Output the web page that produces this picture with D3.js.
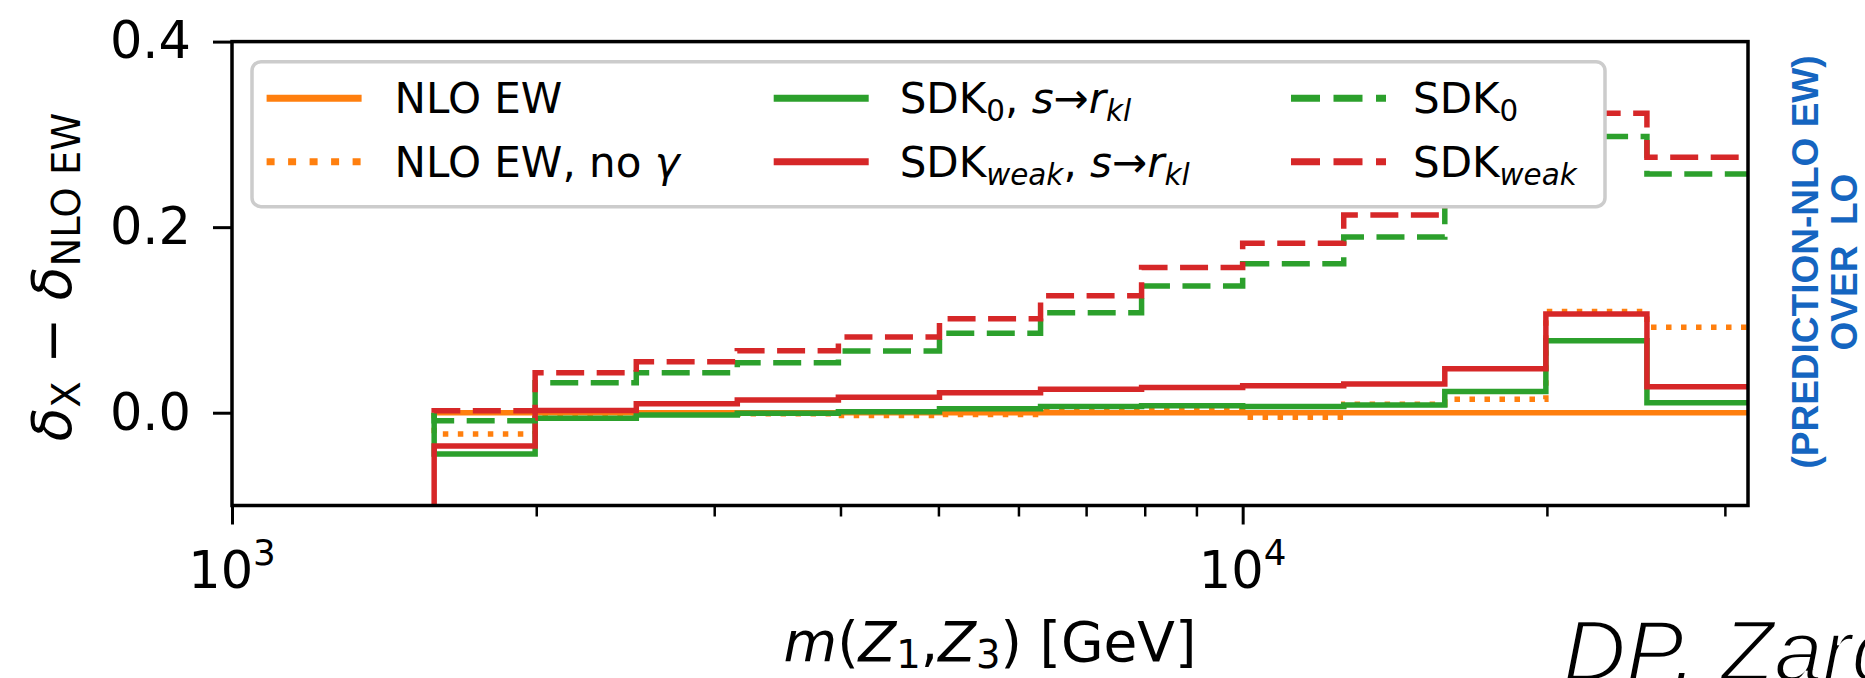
<!DOCTYPE html>
<head>
    <style>
        body { margin: 0; background: #fff; }
        text { font-family: "DejaVu Sans", sans-serif; }
    </style>
</head>
<body>
    <script src="https://d3js.org/d3.v7.min.js"></script>
    <script>
        const width = 1865;
        const height = 678;

        // bin edges of m(Z1,Z3) in GeV (log spaced, 0.1 decade)
        const edges = [1585, 1995, 2512, 3162, 3981, 5012, 6310, 7943, 10000, 12589, 15849, 19953, 25119, 31623];

        // delta_X - delta_NLO EW per bin
        const nloEW        = [0, 0, 0, 0, 0, 0, 0, 0, 0, 0, 0, 0, 0];
        const nloEWnoGamma = [-0.023, -0.001, 0.000, -0.001, -0.003, -0.002, 0.002, 0.002, -0.005, 0.009, 0.0145, 0.109, 0.092];
        const sdk0Rkl      = [-0.0445, -0.006, -0.0025, -0.0005, 0.001, 0.0043, 0.0068, 0.0075, 0.0068, 0.0082, 0.023, 0.0775, 0.0108];
        const sdkWeakRkl   = [-0.036, 0.0025, 0.0097, 0.0137, 0.0166, 0.0216, 0.0252, 0.0272, 0.029, 0.031, 0.0475, 0.1064, 0.028];
        const sdk0         = [-0.0086, 0.0323, 0.0431, 0.0539, 0.0665, 0.0856, 0.1078, 0.1366, 0.1605, 0.1894, 0.235, 0.2976, 0.2574];
        const sdkWeak      = [0.002, 0.0431, 0.055, 0.0669, 0.0816, 0.1014, 0.1262, 0.1564, 0.1826, 0.2132, 0.262, 0.3228, 0.2754];
        // value the step outline comes from at the first edge
        const stepStart    = [0, 0, 0, -0.15, 0, 0];

        const yTicks = [0, 0.2, 0.4];
        const xMajor = [1000, 10000];
        const xMinor = [2000, 3000, 4000, 5000, 6000, 7000, 8000, 9000, 20000, 30000];

        const orange = "#ff7f0e", green = "#2ca02c", red = "#d62728";
        const DOT = "5.5,9.5", DASH = "28,12.5";

        const series = [
            {values: nloEW, color: orange, dash: null},
            {values: nloEWnoGamma, color: orange, dash: DOT},
            {values: sdk0Rkl, color: green, dash: null},
            {values: sdkWeakRkl, color: red, dash: null},
            {values: sdk0, color: green, dash: DASH},
            {values: sdkWeak, color: red, dash: DASH}
        ];

        // legend labels as rich text parts
        const legendLabels = [
            [{t: "NLO EW"}],
            [{t: "NLO EW, no "}, {t: "γ", it: 1}],
            [{t: "SDK"}, {t: "0", sub: 1}, {t: ", "}, {t: "s", it: 1}, {t: "→"}, {t: "r", it: 1}, {t: "kl", it: 1, sub: 1}],
            [{t: "SDK"}, {t: "weak", it: 1, sub: 1}, {t: ", "}, {t: "s", it: 1}, {t: "→"}, {t: "r", it: 1}, {t: "kl", it: 1, sub: 1}],
            [{t: "SDK"}, {t: "0", sub: 1}],
            [{t: "SDK"}, {t: "weak", it: 1, sub: 1}]
        ];

        const L = 232, R = 1748, T = 41.6, B = 505.5;

        const x = d3.scaleLog().domain([1000, 31623]).range([L, R]);
        const y = d3.scaleLinear().domain([-0.1, 0.4]).range([B, T]);

        const svg = d3.select("body").append("svg").attr("width", width).attr("height", height);

        svg.append("clipPath").attr("id", "plotclip")
            .append("rect").attr("x", L).attr("y", T).attr("width", R - L).attr("height", B - T);

        function richText(sel, parts, drop) {
            let shift = 0;
            parts.forEach(p => {
                const target = p.sub ? drop : (p.sup ? -drop : 0);
                const ts = sel.append("tspan").text(p.t).attr("dy", target - shift);
                shift = target;
                if (p.it) ts.attr("font-style", "italic");
                if (p.sub || p.sup) ts.attr("font-size", "70%");
            });
        }

        function stepPath(vals, start) {
            let d = "M" + x(edges[0]) + "," + y(start);
            vals.forEach((v, i) => {
                d += "V" + y(v) + "H" + x(edges[i + 1]);
            });
            return d;
        }

        const plot = svg.append("g").attr("clip-path", "url(#plotclip)");
        series.forEach((s, i) => {
            plot.append("path")
                .attr("d", stepPath(s.values, stepStart[i]))
                .attr("fill", "none")
                .attr("stroke", s.color)
                .attr("stroke-width", 5.5)
                .attr("stroke-dasharray", s.dash)
                .attr("stroke-linejoin", "miter");
        });

        // axes
        const xMaj = svg.append("g").attr("transform", `translate(0,${B})`)
            .call(d3.axisBottom(x).tickValues(xMajor).tickSize(19).tickFormat(""));
        const xMin = svg.append("g").attr("transform", `translate(0,${B})`)
            .call(d3.axisBottom(x).tickValues(xMinor).tickSize(11).tickFormat(""));
        const yAx = svg.append("g").attr("transform", `translate(${L},0)`)
            .call(d3.axisLeft(y).tickValues(yTicks).tickSize(19).tickPadding(22).tickFormat(d3.format(".1f")));
        [xMaj, xMin, yAx].forEach(g => {
            g.select(".domain").remove();
            g.selectAll(".tick line").attr("stroke", "#000").attr("stroke-width", 3);
        });
        xMin.selectAll(".tick line").attr("stroke-width", 2.5);
        yAx.selectAll(".tick text").attr("font-size", 51).attr("fill", "#000")
            .attr("font-family", "DejaVu Sans");

        xMajor.forEach(v => {
            const t = svg.append("text").attr("x", x(v)).attr("y", 588)
                .attr("text-anchor", "middle").attr("font-size", 51);
            t.append("tspan").text("10");
            t.append("tspan").text(Math.log10(v)).attr("font-size", "70%").attr("dy", -23);
        });

        svg.append("rect").attr("x", L).attr("y", T).attr("width", R - L).attr("height", B - T)
            .attr("fill", "none").attr("stroke", "#000").attr("stroke-width", 3.5);

        // axis labels
        const yl = svg.append("text").attr("transform", "translate(71,277) rotate(-90)")
            .attr("text-anchor", "middle").attr("font-size", 55);
        richText(yl, [{t: "δ", it: 1}, {t: "X", sub: 1}, {t: " − "}, {t: "δ", it: 1}, {t: "NLO EW", sub: 1}], 9);

        const xl = svg.append("text").attr("x", (L + R) / 2).attr("y", 661)
            .attr("text-anchor", "middle").attr("font-size", 55);
        richText(xl, [{t: "m", it: 1}, {t: "("}, {t: "Z", it: 1}, {t: "1", sub: 1}, {t: ","}, {t: "Z", it: 1}, {t: "3", sub: 1}, {t: ")"}, {t: " [GeV]"}], 7);

        // legend
        const lg = svg.append("g");
        lg.append("rect").attr("x", 252).attr("y", 61.7).attr("width", 1353).attr("height", 145)
            .attr("rx", 9).attr("fill", "#fff").attr("stroke", "#cccccc").attr("stroke-width", 3.5);
        const colX = [266.6, 773.7, 1291];
        const textOff = [128, 126, 122];
        const rowY = [98.3, 161.7];
        const legDash = {[DOT]: "8,13.5", [DASH]: "29,13.5"};
        series.forEach((s, i) => {
            const c = Math.floor(i / 2), r = i % 2;
            lg.append("line")
                .attr("x1", colX[c]).attr("x2", colX[c] + 95)
                .attr("y1", rowY[r]).attr("y2", rowY[r])
                .attr("stroke", s.color).attr("stroke-width", 7)
                .attr("stroke-dasharray", s.dash ? legDash[s.dash] : null);
            const t = lg.append("text").attr("x", colX[c] + textOff[c]).attr("y", rowY[r] + 15)
                .attr("font-size", 42);
            richText(t, legendLabels[i], 8);
        });

        // side note
        const note = svg.append("g")
            .attr("font-weight", "bold").attr("font-size", 37).attr("fill", "#1565c0");
        note.append("text").attr("transform", "translate(1818,262) rotate(-90)")
            .attr("text-anchor", "middle").style("font-family", "Liberation Sans").text("(PREDICTION-NLO EW)");
        note.append("text").attr("transform", "translate(1857,262) rotate(-90)")
            .attr("text-anchor", "middle").style("white-space", "pre").style("font-family", "Liberation Sans").text("OVER  LO");

        // thin italic signature, cut by the page edge
        svg.append("text").attr("x", 1563).attr("y", 681)
            .style("font-family", "'Liberation Sans', sans-serif")
            .attr("font-style", "italic").attr("font-size", 87)
            .attr("stroke", "#fff").attr("stroke-width", 2.6)
            .text("DP. Zarc");
    </script>
</body>
</html>
